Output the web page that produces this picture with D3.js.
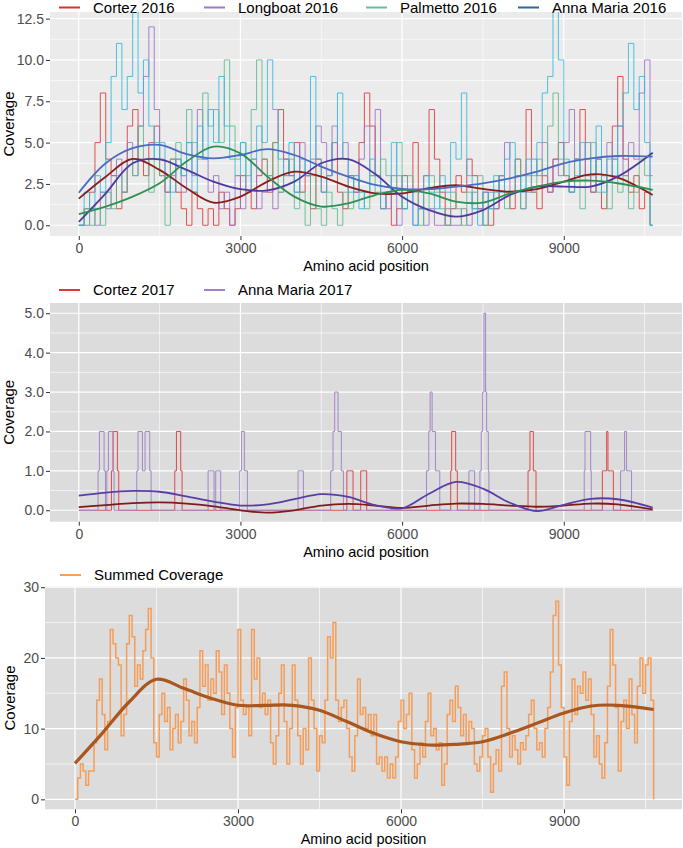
<!DOCTYPE html>
<html><head><meta charset="utf-8">
<script src="https://cdn.jsdelivr.net/npm/d3@7"></script>
<style>body{margin:0;background:#fff}svg{display:block}text{font-family:"Liberation Sans",Arial,Helvetica,sans-serif}</style>
</head><body><svg id="c" width="683" height="848"></svg>
<script>
// ---------------- DATA ----------------
// Panel 1: 2016 coverage, bins of 100 aa from 0 to 10600
const bin2016 = 100;
const cortez2016 = [0,1,2,5,8,4,3,1,2,6, 7,4,3,5,6,3,2,4,2,1, 0,2,1,0,1,0,2,1,0,1, 3,2,1,3,4,2,5,7,4,3,
  5,2,3,1,4,2,3,5,2,1, 3,2,5,8,6,3,1,2,0,1, 3,2,5,1,3,7,4,2,0,1, 3,2,4,3,1,2,0,1,3,2,
  1,4,3,7,2,1,3,2,4,5, 3,2,4,7,3,2,4,1,3,6, 9,4,2,3,1,2,0];
const longboat2016 = [0,0,1,0,2,1,3,4,2,5, 3,6,9,12,7,4,2,3,4,2, 5,3,7,4,2,3,1,2,0,3, 1,2,4,1,2,3,1,2,4,3,
  2,5,3,4,6,5,3,6,4,5, 3,2,4,6,3,7,2,1,3,0, 1,2,0,1,0,1,0,0,1,0, 0,1,0,2,1,0,2,1,3,5,
  2,3,1,2,4,3,5,2,4,3, 5,7,4,3,5,2,4,3,5,4, 6,3,5,4,8,10,3];
const palmetto2016 = [0,1,0,1,0,2,1,3,2,4, 3,6,4,2,5,3,0,4,5,3, 7,5,4,8,6,7,5,10,6,4, 5,3,7,10,4,3,5,2,3,4,
  1,2,0,3,1,0,2,1,0,2, 1,3,2,1,3,2,4,3,2,5, 1,3,2,0,1,3,2,1,0,2, 1,0,2,1,3,0,1,2,3,1,
  2,4,1,3,2,4,3,6,8,4, 3,2,4,1,3,5,2,3,1,4, 2,3,1,2,4,3,0];
const annaMaria2016 = [0,2,1,3,2,5,9,11,7,9, 13,8,10,6,4,5,3,2,4,3, 5,2,6,4,7,5,9,6,4,3, 5,2,4,6,5,10,7,4,3,5,
  2,4,3,9,4,2,3,5,8,4, 2,3,1,2,4,3,1,2,5,3, 1,2,0,1,3,2,1,3,2,5, 4,8,3,1,0,2,1,3,2,4,
  5,3,2,4,3,5,8,9,13,10, 4,2,3,5,4,3,6,2,4,3, 6,8,11,7,9,5,0];
const endPos = 10650;

// Smoothed trend lines (read at these positions)
const smoothPos = [0,500,1000,1500,2000,2500,3000,3500,4000,4500,5000,5500,6000,6500,7000,7500,8000,8500,9000,9500,10000,10650];
const cortez2016Smooth = [1.61,2.94,4.01,3.35,2.24,1.37,1.73,2.64,3.24,2.94,2.34,1.93,1.93,2.24,2.42,2.2,2.03,2.18,2.64,3.08,2.88,1.83];
const longboat2016Smooth = [0.2,1.93,3.75,3.99,3.35,2.64,2.18,2.11,2.64,3.75,4.0,3.1,1.73,0.92,0.52,0.92,1.83,2.34,2.34,2.34,2.94,4.39];
const palmetto2016Smooth = [0.68,1.13,1.73,2.54,3.85,4.76,4.35,2.94,1.73,1.13,1.33,1.83,2.14,1.93,1.43,1.37,1.93,2.34,2.64,2.7,2.54,2.14];
const annaMaria2016Smooth = [1.97,3.75,4.66,4.86,4.31,4.05,4.25,4.61,4.25,3.55,2.94,2.44,2.2,2.18,2.34,2.54,2.84,3.24,3.75,4.05,4.19,4.15];

// Panel 2: 2017 coverage as step breakpoints
const cortez2017Pos = [0,606,637,717,742,1781,1812,1892,1917,4975,5090,5232,5343,6902,6920,6994,7025,8337,8373,8435,8485,9716,9796,9820,9920,10650];
const cortez2017Val = [0,1,2,1,0,1,2,1,0,1,0,1,0,1,2,1,0,1,2,1,0,1,2,1,0,0];
const annaMaria2017Pos = [0,358,383,470,495,520,550,637,655,1076,1100,1181,1230,1317,1342,2400,2510,2541,2634,2987,3018,3073,3129,4069,4168,
  4675,4718,4749,4811,4872,4911,6452,6495,6520,6557,6619,6699,7240,7345,7444,7469,7494,7519,7550,7569,7600,7611,9380,9394,9499,9510,10054,10128,10165,10258,10650];
const annaMaria2017Val = [0,1,2,1,0,1,2,1,0,1,2,1,2,1,0,1,0,1,0,1,2,1,0,1,0,
  1,2,3,2,1,0,1,2,3,2,1,0,1,0,1,2,3,5,3,2,1,0,1,2,1,0,1,2,1,0,0];
const cortez2017Smooth = [0.08,0.13,0.18,0.2,0.17,0.1,0.0,-0.06,0.0,0.12,0.16,0.12,0.06,0.12,0.17,0.16,0.12,0.09,0.12,0.17,0.15,0.02];
const annaMaria2017Smooth = [0.37,0.45,0.49,0.47,0.35,0.22,0.12,0.15,0.28,0.41,0.34,0.13,0.05,0.42,0.72,0.55,0.19,-0.02,0.14,0.29,0.28,0.07];

// Panel 3: summed coverage, bins of 50 aa from 0 to 10650
const binSum = 50;
const summed = [0,3,5,4,2,4,4,8,14,17, 12,7,11,24,22,20,19,9,12,22, 26,23,16,19,17,21,24,27,20,8,
  6,12,15,11,13,7,10,12,8,11, 17,14,9,11,8,13,21,16,19,14, 17,15,21,18,12,19,15,10,6,13,
  24,14,12,13,9,24,17,20,13,15, 12,14,8,5,9,15,19,11,5,10, 19,14,9,5,10,7,20,14,10,4,
  9,8,14,23,20,25,14,11,13,14, 10,6,4,9,17,12,13,10,12,9, 12,5,6,4,6,3,5,3,6,11,
  14,10,12,15,7,3,5,8,6,11, 15,9,10,7,8,2,5,12,14,11, 16,13,9,12,8,11,10,5,4,6,
  9,10,6,1,5,7,4,16,18,10, 6,9,7,5,8,7,9,12,14,10, 7,8,6,10,13,18,26,28,19,13,
  6,2,11,17,12,16,15,18,14,17, 12,6,9,5,3,8,16,24,19,13, 4,11,14,10,17,12,8,16,20,15,
  19,20,14,0];
const summedSmooth = [5.09,9.33,13.8,16.98,15.7,14.3,13.3,13.3,13.3,12.6,11.0,9.33,8.15,7.68,7.78,8.15,9.33,10.75,12.2,13.2,13.3,12.7];

const legend2016 = ["Cortez 2016","Longboat 2016","Palmetto 2016","Anna Maria 2016"];
const legend2017 = ["Cortez 2017","Anna Maria 2017"];
const legendSum = ["Summed Coverage"];
const xTicks = [0,3000,6000,9000];
const xMinor = [1500,4500,7500,10500];

// ---------------- DRAWING ----------------
const svg = d3.select("#c");
const TICKC = "#4d4d4d";

function binsToPoints(vals, step) {
  const pts = vals.map((v,i)=>[i*step, v]);
  pts.push([endPos, vals[vals.length-1]]);
  return pts;
}

let clipId = 0;
function panel(o) {
  const g = svg.append("g");
  const id = "clip" + (clipId++);
  g.append("clipPath").attr("id", id).append("rect")
    .attr("x", o.left).attr("y", o.top).attr("width", o.right-o.left).attr("height", o.bottom-o.top);
  g.append("rect").attr("x", o.left).attr("y", o.top).attr("width", o.right-o.left).attr("height", o.bottom-o.top).attr("fill", o.bg);
  const x = o.x, y = o.y;
  const grid = g.append("g");
  o.yMinor.forEach(v=>grid.append("line").attr("x1",o.left).attr("x2",o.right).attr("y1",y(v)).attr("y2",y(v)).attr("stroke","#fff").attr("stroke-width",0.6));
  xMinor.forEach(v=>grid.append("line").attr("y1",o.top).attr("y2",o.bottom).attr("x1",x(v)).attr("x2",x(v)).attr("stroke","#fff").attr("stroke-width",0.6));
  o.yTicks.forEach(v=>grid.append("line").attr("x1",o.left).attr("x2",o.right).attr("y1",y(v)).attr("y2",y(v)).attr("stroke","#fff").attr("stroke-width",1.2));
  xTicks.forEach(v=>grid.append("line").attr("y1",o.top).attr("y2",o.bottom).attr("x1",x(v)).attr("x2",x(v)).attr("stroke","#fff").attr("stroke-width",1.2));

  const ax = g.append("g").attr("transform",`translate(0,${o.bottom})`)
    .call(d3.axisBottom(x).tickValues(xTicks).tickSize(4).tickPadding(3).tickFormat(d3.format("d")));
  const ay = g.append("g").attr("transform",`translate(${o.left},0)`)
    .call(d3.axisLeft(y).tickValues(o.yTicks).tickSize(4).tickPadding(2).tickFormat(o.yFmt));
  [ax, ay].forEach(a=>{
    a.select(".domain").remove();
    a.selectAll(".tick line").attr("stroke","#333").attr("stroke-width",1);
    a.selectAll(".tick text").attr("fill",TICKC).style("font-size","14px").style("font-family",'"Liberation Sans",Arial,sans-serif');
  });
  g.append("text").attr("x",(o.left+o.right)/2).attr("y",o.bottom+30).attr("dy","0.35em")
    .attr("text-anchor","middle").style("font-size","14.5px").attr("fill","#000").text("Amino acid position");
  g.append("text").attr("transform",`translate(${o.ytx},${(o.top+o.bottom)/2}) rotate(-90)`).attr("dy","0.35em")
    .attr("text-anchor","middle").style("font-size","15px").attr("fill","#000").text("Coverage");
  // legend
  o.legend.forEach((name,i)=>{
    const kx = o.legKeys[i];
    g.append("line").attr("x1",kx).attr("x2",kx+21).attr("y1",o.legY).attr("y2",o.legY).attr("stroke",o.legColors[i]).attr("stroke-width",2);
    g.append("text").attr("x",kx+34).attr("y",o.legY).attr("dy","0.35em").style("font-size","15px").attr("fill","#000").text(name);
  });
  const plot = g.append("g").attr("clip-path",`url(#${id})`);
  return plot;
}

// Panel 1
{
  const x = d3.scaleLinear().domain([-534, 11194]).range([50, 682]);
  const y = d3.scaleLinear().domain([-0.65, 12.9]).range([236, 12]);
  const plot = panel({x, y, left:50, right:682, top:12, bottom:236, bg:"#ebebeb",
    yTicks:[0,2.5,5,7.5,10,12.5], yMinor:[1.25,3.75,6.25,8.75,11.25], yFmt:d3.format(".1f"), ytx:9,
    legend:legend2016, legKeys:[59,204,366,518], legY:7.5, legColors:["#d7302d","#9c79c4","#63c29c","#2b679a"]});
  const line = d3.line().x(d=>x(d[0])).y(d=>y(d[1])).curve(d3.curveStepAfter);
  const series = [[cortez2016,"#d93636"],[longboat2016,"#9b6fc3"],[palmetto2016,"#5cb98b"],[annaMaria2016,"#33b6e0"]];
  series.forEach(([vals,c])=>{
    plot.append("path").attr("d", line(binsToPoints(vals, bin2016))).attr("fill","none").attr("stroke",c).attr("stroke-width",1).attr("stroke-opacity",0.85);
  });
  const sm = d3.line().x((d,i)=>x(smoothPos[i])).y(d=>y(d)).curve(d3.curveCatmullRom.alpha(0.5));
  [[cortez2016Smooth,"#8a1c1c"],[longboat2016Smooth,"#4e3a9c"],[palmetto2016Smooth,"#2e9154"],[annaMaria2016Smooth,"#4a6cc0"]].forEach(([vals,c])=>{
    plot.append("path").attr("d", sm(vals)).attr("fill","none").attr("stroke",c).attr("stroke-width",1.8);
  });
}

// Panel 2
{
  const x = d3.scaleLinear().domain([-534, 11194]).range([50, 682]);
  const y = d3.scaleLinear().domain([-0.29, 5.26]).range([521.7, 303]);
  const plot = panel({x, y, left:50, right:682, top:303, bottom:521.7, bg:"#dcdcdc",
    yTicks:[0,1,2,3,4,5], yMinor:[0.5,1.5,2.5,3.5,4.5], yFmt:d3.format(".1f"), ytx:9,
    legend:legend2017, legKeys:[59,204], legY:290, legColors:["#d93b3b","#9d80c8"]});
  const line = d3.line().x(d=>x(d[0])).y(d=>y(d[1])).curve(d3.curveStepAfter);
  [[cortez2017Pos,cortez2017Val,"#e04848"],[annaMaria2017Pos,annaMaria2017Val,"#a287c9"]].forEach(([p,v,c])=>{
    plot.append("path").attr("d", line(p.map((d,i)=>[d, v[i]]))).attr("fill","none").attr("stroke",c).attr("stroke-width",1);
  });
  const sm = d3.line().x((d,i)=>x(smoothPos[i])).y(d=>y(d)).curve(d3.curveCatmullRom.alpha(0.5));
  [[cortez2017Smooth,"#7f1b1b"],[annaMaria2017Smooth,"#5a3ea6"]].forEach(([vals,c])=>{
    plot.append("path").attr("d", sm(vals)).attr("fill","none").attr("stroke",c).attr("stroke-width",1.8);
  });
}

// Panel 3
{
  const x = d3.scaleLinear().domain([-552, 11172]).range([45, 682]);
  const y = d3.scaleLinear().domain([-1.41, 30.07]).range([809.3, 586.7]);
  const plot = panel({x, y, left:45, right:682, top:586.7, bottom:809.3, bg:"#dcdcdc",
    yTicks:[0,10,20,30], yMinor:[5,15,25], yFmt:d3.format("d"), ytx:10,
    legend:legendSum, legKeys:[60], legY:575, legColors:["#f4a05c"]});
  const line = d3.line().x(d=>x(d[0])).y(d=>y(d[1])).curve(d3.curveStepAfter);
  const pts = summed.map((v,i)=>[i*binSum, v]);
  plot.append("path").attr("d", line(pts)).attr("fill","none").attr("stroke","#f59d58").attr("stroke-width",1.5);
  const sm = d3.line().x((d,i)=>x(smoothPos[i])).y(d=>y(d)).curve(d3.curveCatmullRom.alpha(0.5));
  plot.append("path").attr("d", sm(summedSmooth)).attr("fill","none").attr("stroke","#a9561f").attr("stroke-width",3.2);
}
</script>
</body></html>
